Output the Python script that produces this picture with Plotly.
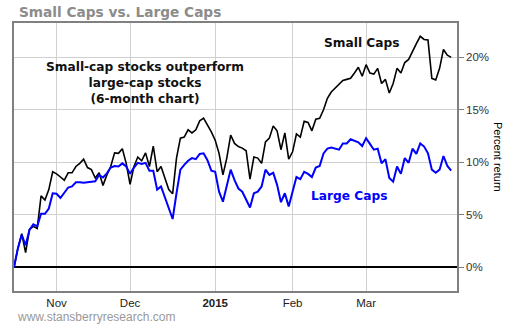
import plotly.graph_objects as go

# Cumulative percent return per trading day (mid-Oct 2014 .. end of Mar 2015)
small_caps = [0.0, 1.8, 3.2, 1.4, 3.6, 3.9, 3.7, 6.8, 6.4, 7.4,
              9.1, 8.9, 8.6, 8.3, 9.0, 9.0, 9.6, 9.9, 10.3, 9.5,
              9.3, 8.5, 9.0, 7.8, 8.8, 9.6, 10.9, 10.85, 11.3, 9.9,
              7.9, 9.6, 10.5, 10.15, 10.9, 9.6, 11.55, 9.1, 9.6, 8.6,
              7.4, 7.0, 10.4, 12.3, 12.4, 13.1, 12.8, 13.1, 13.95, 14.2,
              13.55, 12.9, 12.1, 10.85, 8.8, 10.4, 12.6, 11.8, 11.5, 11.35,
              11.1, 8.4, 10.5, 10.4, 9.9, 11.95, 12.3, 13.45, 13.0, 11.2,
              12.8, 10.3, 11.0, 12.7, 12.4, 13.9, 13.8, 13.0, 14.1, 14.2,
              15.0, 16.1, 16.7, 17.1, 17.5, 17.8, 17.9, 18.0, 18.5, 19.05,
              18.2, 19.3, 18.5, 18.4, 18.95, 17.5, 17.9, 16.6, 17.5, 18.95,
              18.5, 19.5, 19.8, 20.6, 21.3, 22.0, 21.7, 21.65, 18.0, 17.85,
              18.95, 20.75, 20.2, 20.0]

large_caps = [0.0, 1.8, 3.1, 2.1, 3.55, 4.1, 3.9, 5.1, 5.1, 5.6,
              7.05, 7.0, 6.6, 7.1, 7.6, 7.7, 8.1, 8.1, 8.05, 8.1,
              8.15, 8.2, 8.8, 8.55, 8.95, 9.5, 9.65, 9.6, 9.9, 9.6,
              8.9, 9.5, 9.95, 9.85, 9.95, 9.2, 9.2, 7.4, 7.7, 6.7,
              5.6, 4.6, 7.05, 9.3, 9.75, 10.15, 10.4, 10.3, 10.8, 10.85,
              10.2, 9.2, 9.1, 7.2, 6.25, 7.8, 9.3, 8.3, 7.5, 7.2,
              6.4, 5.7, 7.05, 7.2, 7.7, 9.3, 8.8, 9.0, 7.85, 6.2,
              7.05, 5.8, 7.2, 8.6, 8.4, 9.1, 8.9, 8.6, 9.5, 9.65,
              10.85, 11.3, 11.4, 11.3, 11.2, 11.8, 11.8, 12.2, 12.05, 11.9,
              11.55, 12.3, 11.75, 11.2, 11.3, 9.9, 10.3, 8.5, 8.15, 9.6,
              8.9, 10.4, 9.95, 11.3, 10.8, 11.8, 11.5, 10.85, 9.3, 9.0,
              9.3, 10.6, 9.65, 9.2]

# Trading-day index of the first session of each month, and its label
month_start_idx = [11, 30, 52, 72, 91]
month_labels = ["Nov", "Dec", "<b>2015</b>", "Feb", "Mar"]

y_tick_vals = [0, 5, 10, 15, 20]
y_tick_text = ["0%", "5%", "10%", "15%", "20%"]

days = list(range(len(small_caps)))

fig = go.Figure()
fig.add_trace(go.Scatter(x=days, y=small_caps, mode="lines",
                         line=dict(color="#000000", width=1.6), name="Small Caps"))
fig.add_trace(go.Scatter(x=days, y=large_caps, mode="lines",
                         line=dict(color="#0000ff", width=2), name="Large Caps"))

bold = "DejaVu Sans"
fig.update_layout(
    width=510, height=325,
    margin=dict(l=14, r=53, t=23, b=34),
    paper_bgcolor="white", plot_bgcolor="white",
    showlegend=False,
    xaxis=dict(
        range=[0, 114.5], tickvals=month_start_idx, ticktext=month_labels,
        showgrid=True, gridcolor="#d0d0d0", gridwidth=1,
        showline=True, linecolor="#808080", linewidth=1.5, mirror=True,
        zeroline=False, ticks="",
        tickfont=dict(family="Liberation Sans, Arial", size=11.5, color="#222"),
    ),
    yaxis=dict(
        side="right", range=[-2.26, 23.27],
        tickvals=y_tick_vals, ticktext=y_tick_text,
        showgrid=True, gridcolor="#d0d0d0", gridwidth=1,
        showline=True, linecolor="#808080", linewidth=1.5, mirror=True,
        zeroline=True, zerolinecolor="#000000", zerolinewidth=1.5,
        ticks="outside", ticklen=5, tickcolor="#808080",
        tickfont=dict(family="Liberation Sans, Arial", size=11.5, color="#333"),
    ),
    annotations=[
        dict(text="<b>Small Caps vs. Large Caps</b>", xref="paper", yref="paper",
             x=0.006, y=1.041, xanchor="left", yanchor="middle", showarrow=False,
             font=dict(family=bold, size=13.7, color="#8c8c8c")),
        dict(text="<b>Small-cap stocks outperform<br>large-cap stocks<br>(6-month chart)</b>",
             x=33.85, y=17.58, xref="x", yref="y", xanchor="center", yanchor="middle",
             showarrow=False, align="center",
             font=dict(family=bold, size=12.2, color="#111")),
        dict(text="<b>Small Caps</b>", x=89.8, y=21.33, xref="x", yref="y",
             showarrow=False, font=dict(family=bold, size=12.2, color="#111")),
        dict(text="<b>Large Caps</b>", x=86.7, y=6.82, xref="x", yref="y",
             showarrow=False, font=dict(family=bold, size=12.2, color="#0000ff")),
        dict(text="Percent return", xref="paper", yref="paper", x=1.0926, y=0.5,
             textangle=90, showarrow=False, xanchor="center", yanchor="middle",
             font=dict(family="Liberation Sans, Arial", size=11, color="#000")),
        dict(text="www.stansberryresearch.com", xref="paper", yref="paper",
             x=0.002, y=-0.097, xanchor="left", yanchor="middle", showarrow=False,
             font=dict(family="Liberation Sans, Arial", size=12, color="#999999")),
    ],
)

fig.write_html("out.html")
